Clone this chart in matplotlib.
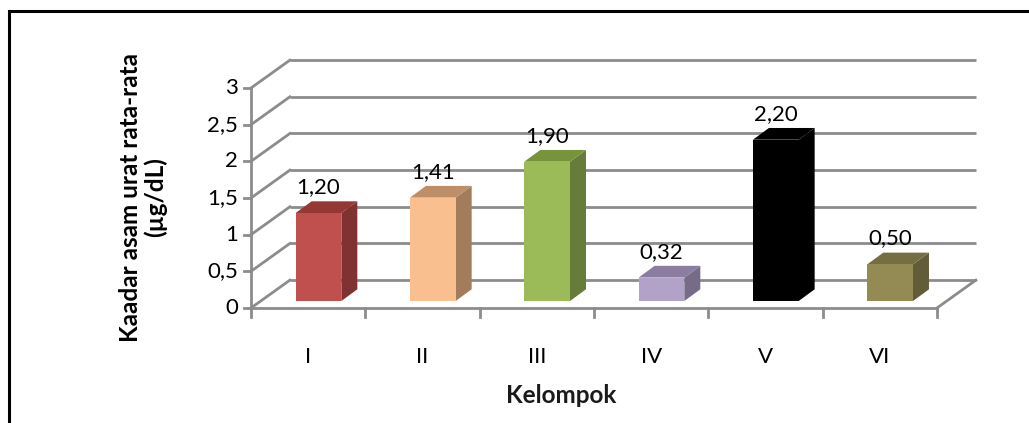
import numpy as np
import matplotlib
matplotlib.use("Agg")
import matplotlib.pyplot as plt
from matplotlib.patches import Rectangle, Polygon

plt.rcParams['font.family'] = ['Lato', 'DejaVu Sans']

# data
kelompok = ["I", "II", "III", "IV", "V", "VI"]
kadar = [1.20, 1.41, 1.90, 0.32, 2.20, 0.50]
labels = ["1,20", "1,41", "1,90", "0,32", "2,20", "0,50"]
y_ticks = [0, 0.5, 1, 1.5, 2, 2.5, 3]
y_ticklabels = ["0", "0,5", "1", "1,5", "2", "2,5", "3"]

front_col = ["#C0504D", "#F9BF8F", "#9BBB59", "#B3A2C7", "#000000", "#948A54"]
side_col = ["#7F3231", "#A37C5B", "#677C3A", "#776C88", "#000000", "#625C38"]
top_col = ["#953735", "#BE8E68", "#77933C", "#8A7D9F", "#000000", "#766E43"]

# pseudo-3d geometry (category units / value units)
wall_dx, wall_dy = 0.34, 0.38
bar_off_x, bar_off_y = 0.09, 0.095
bar_w = 0.40
bar_dx, bar_dy = 0.14, 0.16
grid_c = "#8C8C8C"

W, H = 1029, 423
fig = plt.figure(figsize=(W / 100, H / 100), dpi=100)
ax = fig.add_axes([0, 0, 1, 1])
px_x = 114.33
px_y = 73.33
ax.set_xlim(-251 / px_x, (W - 251) / px_x)
ax.set_ylim(-115 / px_y, (H - 115) / px_y)
ax.axis("off")

n = len(kelompok)
ymax = y_ticks[-1]

# back wall gridlines and left wall diagonals
for v in y_ticks:
    ax.plot([wall_dx, n + wall_dx], [v + wall_dy, v + wall_dy], color=grid_c, lw=2, solid_capstyle="butt")
    ax.plot([0, wall_dx], [v, v + wall_dy], color=grid_c, lw=2)
    ax.plot([-0.06, 0], [v, v], color=grid_c, lw=2)
# floor right edge
ax.plot([n, n + wall_dx], [0, wall_dy], color=grid_c, lw=2)
# front axes
ax.plot([0, 0], [0, ymax], color=grid_c, lw=2)
ax.plot([0, n], [0, 0], color=grid_c, lw=2)
for i in range(n + 1):
    ax.plot([i, i], [0, -0.12], color=grid_c, lw=2)

# bars
for i, v in enumerate(kadar):
    x0 = i + 0.5 - bar_w / 2 + bar_off_x
    y0 = bar_off_y
    x1 = x0 + bar_w
    y1 = y0 + v
    ax.add_patch(Polygon([(x1, y0), (x1 + bar_dx, y0 + bar_dy), (x1 + bar_dx, y1 + bar_dy), (x1, y1)],
                         closed=True, fc=side_col[i], ec="none", zorder=3))
    ax.add_patch(Polygon([(x0, y1), (x1, y1), (x1 + bar_dx, y1 + bar_dy), (x0 + bar_dx, y1 + bar_dy)],
                         closed=True, fc=top_col[i], ec="none", zorder=3))
    ax.add_patch(Rectangle((x0, y0), bar_w, v, fc=front_col[i], ec="none", zorder=4))
    ax.text(x0 + bar_w / 2, y1 + 0.27, labels[i], ha="center", va="baseline",
            fontsize=16, color="black", zorder=5)

# tick labels
for v, t in zip(y_ticks, y_ticklabels):
    ax.text(-0.115, v, t, ha="right", va="center", fontsize=16)
for i, k in enumerate(kelompok):
    ax.text(i + 0.5, -0.67, k, ha="center", va="center", fontsize=16)

ax.text(2.71, -1.19, "Kelompok", ha="center", va="center", fontsize=17.5, fontweight="bold", color="#1a1a1a")
ax.text(-0.945, 1.51, "Kaadar asam urat rata-rata\n(µg/dL)", ha="center", va="center",
        rotation=90, fontsize=17.5, fontweight="bold", multialignment="center", linespacing=1.05)

# outer frame
fig.patches.append(Rectangle((9 / W, -0.1), 1.2, 1.1 - 11 / H, transform=fig.transFigure,
                             fill=False, ec="black", lw=2.2))

fig.savefig("out.png", dpi=100)
